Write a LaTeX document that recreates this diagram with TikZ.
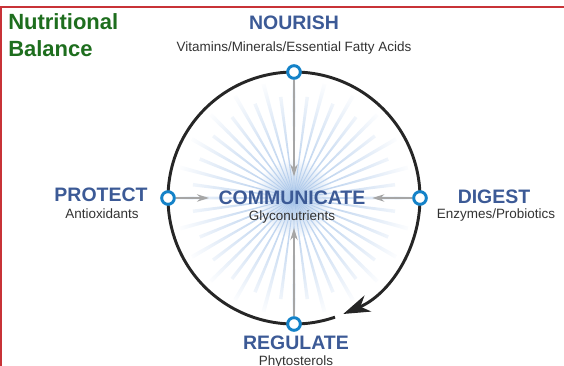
\documentclass[tikz,border=0pt]{standalone}
\usepackage{fontspec}
\setmainfont{Liberation Sans}
\usepackage{tikz}
\usetikzlibrary{arrows.meta, positioning}
\definecolor{titlegreen}{RGB}{30,110,30}
\definecolor{headblue}{RGB}{60,90,150}
\definecolor{ringblue}{RGB}{20,130,200}
\definecolor{burstblue}{RGB}{165,195,232}
\definecolor{framered}{RGB}{200,50,55}

\begin{document}
\begin{tikzpicture}[x=0.75pt, y=0.75pt,
  title/.style={font=\fontsize{16.5}{20}\selectfont\bfseries, text=titlegreen, inner sep=0pt},
  heading/.style={font=\fontsize{14.6}{16}\selectfont\bfseries, text=headblue, inner sep=1pt},
  subtext/.style={font=\fontsize{10.1}{11}\selectfont, text=black!80, inner sep=1pt},
  ring/.style={circle, draw=ringblue, line width=2.2pt, fill=white, minimum size=9.5pt, inner sep=0pt},
  loopline/.style={line width=2.2pt, black!85},
  feed/.style={-{Stealth[length=9pt,width=5.5pt]}, black!35, line width=1.5pt},
]
\useasboundingbox (0,0) rectangle (564,366);

% Frame
\draw[framered, line width=1.1pt] (1,0) -- (1,359) -- (564,359);

% Title
\node[title, anchor=base west] (title1) at (8,336) {Nutritional};
\node[title, anchor=base west] (title2) at (8,309) {Balance};

% Starburst behind the center
\coordinate (c) at (294,168);
\shade[inner color=burstblue, outer color=white] (c) circle (40);
\begin{scope}[shift={(c)}]
  \clip \foreach \a [evaluate=\a as \r using {mod(\a,15)==0 ? 118 : 102}] in {0,7.5,...,352.5}
    {(0,0) -- (\a-1:\r) -- (\a+1:\r) -- cycle};
  \shade[inner color=burstblue, outer color=white] (0,0) circle (122);
\end{scope}

% Cycle
\draw[loopline, -{Stealth[length=20pt,width=13pt,inset=6pt]}] ([shift={(90:126)}]c) arc[start angle=90, end angle=-67, radius=126];
\draw[loopline] ([shift={(-71:126)}]c) arc[start angle=-71, end angle=-270, radius=126];

% Points on the cycle
\node[ring] (nourishpt) at (294,294) {};
\node[ring] (digestpt) at (420,168) {};
\node[ring] (regulatept) at (294,42) {};
\node[ring] (protectpt) at (168,168) {};

% Labels
\node[heading, anchor=base] (nourish) at (294,336) {NOURISH};
\node[subtext, anchor=base] (vitamins) at (294,314) {Vitamins/Minerals/Essential Fatty Acids};
\node[heading, anchor=base] (protect) at (101,164) {PROTECT};
\node[subtext, anchor=base] (antiox) at (102,147) {Antioxidants};
\node[heading, anchor=base] (comm) at (292,161) {COMMUNICATE};
\node[subtext, anchor=base] (glyco) at (292,145) {Glyconutrients};
\node[heading, anchor=base] (digest) at (494,162) {DIGEST};
\node[subtext, anchor=base] (enzymes) at (496,147) {Enzymes/Probiotics};
\node[heading, anchor=base] (regulate) at (296,16) {REGULATE};
\node[subtext, anchor=base] (phyto) at (296,0) {Phytosterols};

% Arrows into the center
\draw[feed, shorten >=10pt] (nourishpt) -- (nourishpt |- comm.north);
\draw[feed, shorten >=2pt] (regulatept) -- (regulatept |- glyco.south);
\draw[feed, shorten >=6pt] (protectpt) -- (protectpt -| comm.west);
\draw[feed, shorten >=4pt] (digestpt) -- (digestpt -| comm.east);
\end{tikzpicture}
\end{document}
